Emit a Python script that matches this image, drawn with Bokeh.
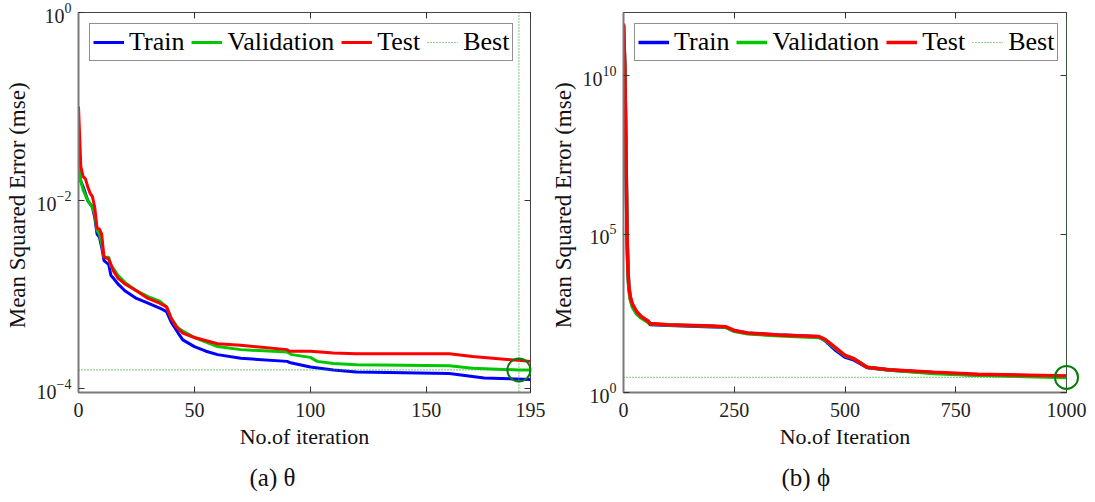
from bokeh.plotting import figure
from bokeh.models import (FixedTicker, LogAxis, LinearAxis, Span, Legend, LegendItem,
                          Title, Range1d, CustomJSTickFormatter)
from bokeh.layouts import row
from bokeh.embed import file_html
from bokeh.resources import INLINE

FONT = "Liberation Serif"

# ---------------- (a) theta ----------------
a_train_it = [0, 1, 2, 4, 6, 7, 8, 9, 10, 11, 13, 14, 15, 17, 20, 25, 30, 35, 38, 40, 43, 45,
              50, 55, 60, 70, 90, 91, 100, 110, 120, 160, 165, 175, 195]
a_train = [2.3e-2, 1.6e-2, 1.4e-2, 1.0e-2, 8.5e-3, 6.6e-3, 4.4e-3, 4.1e-3, 3.2e-3, 2.3e-3,
           2.1e-3, 1.6e-3, 1.5e-3, 1.3e-3, 1.1e-3, 9.1e-4, 8.1e-4, 7.2e-4, 6.6e-4, 5.1e-4,
           3.9e-4, 3.3e-4, 2.8e-4, 2.5e-4, 2.3e-4, 2.1e-4, 1.95e-4, 1.9e-4, 1.7e-4, 1.58e-4,
           1.5e-4, 1.45e-4, 1.4e-4, 1.3e-4, 1.25e-4]
a_val_it = [0, 1, 2, 4, 6, 7, 8, 9, 10, 11, 13, 14, 15, 17, 20, 25, 30, 35, 38, 40, 43, 45,
            50, 60, 70, 90, 92, 100, 103, 110, 120, 160, 170, 190, 195]
a_val = [2.7e-2, 1.6e-2, 1.3e-2, 1.0e-2, 8.5e-3, 7.2e-3, 4.8e-3, 4.4e-3, 3.5e-3, 2.5e-3,
         2.5e-3, 2.0e-3, 1.9e-3, 1.6e-3, 1.35e-3, 1.1e-3, 9.5e-4, 8.5e-4, 7.4e-4, 5.6e-4,
         4.4e-4, 4.1e-4, 3.5e-4, 2.8e-4, 2.6e-4, 2.45e-4, 2.3e-4, 2.15e-4, 1.95e-4, 1.85e-4,
         1.8e-4, 1.75e-4, 1.65e-4, 1.58e-4, 1.58e-4]
a_test_it = [0, 1, 2, 3, 4, 5, 6, 7, 8, 9, 10, 11, 13, 14, 15, 17, 20, 25, 30, 35, 38, 40, 42,
             45, 50, 60, 70, 90, 91, 100, 110, 120, 160, 170, 195]
a_test = [1.0e-1, 2.3e-2, 1.8e-2, 1.7e-2, 1.4e-2, 1.2e-2, 1.1e-2, 8.5e-3, 5.1e-3, 5.0e-3,
          4.4e-3, 2.5e-3, 2.4e-3, 2.1e-3, 1.8e-3, 1.5e-3, 1.3e-3, 1.1e-3, 9.1e-4, 8.1e-4,
          7.4e-4, 5.6e-4, 4.6e-4, 3.9e-4, 3.5e-4, 3.0e-4, 2.9e-4, 2.6e-4, 2.5e-4, 2.5e-4,
          2.4e-4, 2.35e-4, 2.35e-4, 2.2e-4, 1.95e-4]
a_best_epoch = 190
a_best_mse = 1.58e-4
a_xticks = [0, 50, 100, 150, 195]
a_yticks = [1e-4, 1e-2, 1e0]
a_xlim = (0, 195)
a_ylim = (9.1e-5, 1.0)
a_xlabel = "No.of iteration"
a_caption = "(a) θ"

# ---------------- (b) phi ----------------
b_it = [0, 3, 5, 8, 10, 12, 15, 20, 30, 40, 55, 60, 100, 200, 230, 250, 280, 350, 440, 455,
        480, 500, 520, 550, 600, 700, 800, 1000]
b_train = [4.0e11, 1.6e10, 1.6e8, 7.9e4, 7.1e3, 2.2e3, 1.0e3, 562, 316, 240, 178, 141, 132,
           120, 117, 89, 74, 65, 58, 44, 21, 13.2, 10.7, 6.2, 5.1, 4.2, 3.6, 3.2]
b_val = [4.0e11, 1.6e10, 1.6e8, 7.9e4, 6.3e3, 2.0e3, 891, 501, 295, 224, 166, 148, 135,
         123, 115, 85, 71, 62, 55, 46, 24, 14.5, 11.7, 6.3, 5.1, 4.0, 3.5, 3.0]
b_test = [4.47e11, 2.0e10, 2.0e8, 1.0e5, 7.9e3, 2.5e3, 1.12e3, 631, 355, 251, 182, 151, 138,
          126, 120, 91, 76, 66, 59, 48, 25, 14.8, 11.7, 6.3, 5.2, 4.4, 3.8, 3.3]
b_best_epoch = 1000
b_best_mse = 3.0
b_xticks = [0, 250, 500, 750, 1000]
b_yticks = [1e0, 1e5, 1e10]
b_xlim = (0, 1000)
b_ylim = (1.0, 1e12)
b_xlabel = "No.of Iteration"
b_caption = "(b) ϕ"

YLABEL = "Mean Squared Error  (mse)"
C_TRAIN, C_VAL, C_TEST = "#0000ff", "#00c800", "#ff0000"
C_BEST, C_CIRC = "#22aa22", "#0a7a0a"
AX = "#7a7a7a"


def panel(width, height, borders, xlim, ylim, xticks, yticks, series, best_epoch, best_mse,
          xlabel, caption, cap_offset, lw, legend_margin):
    bl, br, bt, bb = borders
    p = figure(width=width, height=height, output_backend="svg", toolbar_location=None,
               x_axis_type="linear", y_axis_type="log",
               x_range=Range1d(*xlim), y_range=Range1d(*ylim),
               min_border_left=bl, min_border_right=br, min_border_top=bt,
               min_border_bottom=bb)
    p.background_fill_color = "white"
    p.border_fill_color = "white"
    p.outline_line_color = "#444444"
    p.outline_line_width = 1
    p.xgrid.visible = False
    p.ygrid.visible = False

    xa = p.xaxis[0]
    xa.ticker = FixedTicker(ticks=xticks)
    ya = p.yaxis[0]
    ya.ticker = FixedTicker(ticks=yticks, minor_ticks=[])
    for ax in (xa, ya):
        ax.axis_line_color = AX
        ax.axis_line_width = 2
        ax.major_tick_in = 6
        ax.major_tick_out = 0
        ax.major_tick_line_color = "#333333"
        ax.minor_tick_line_color = None
        ax.major_label_text_font = FONT
        ax.major_label_text_font_size = "20px"
        ax.major_label_text_color = "#222222"
        ax.axis_label_text_font = FONT
        ax.axis_label_text_font_style = "normal"
        ax.axis_label_text_color = "#111111"
    xa.major_label_standoff = 10
    xa.axis_label = xlabel
    xa.axis_label_text_font_size = "22px"
    xa.axis_label_standoff = 4
    ya.major_label_standoff = 7
    ya.axis_label = YLABEL
    ya.axis_label_text_font_size = "23px"
    ya.axis_label_standoff = 4

    blank = CustomJSTickFormatter(code="return ''")
    top = LinearAxis(ticker=FixedTicker(ticks=xticks), formatter=blank,
                     axis_line_color=None, major_tick_in=6, major_tick_out=0,
                     major_tick_line_color="#333333", minor_tick_line_color=None,
                     major_label_standoff=0, major_label_text_font_size="1px")
    right = LogAxis(ticker=FixedTicker(ticks=yticks, minor_ticks=[]), formatter=blank,
                    axis_line_color=None, major_tick_in=6, major_tick_out=0,
                    major_tick_line_color="#333333", minor_tick_line_color=None,
                    major_label_standoff=0, major_label_text_font_size="1px")
    p.add_layout(top, "above")
    p.add_layout(right, "right")

    (tr_x, tr_y), (va_x, va_y), (te_x, te_y) = series
    r_tr = p.line(tr_x, tr_y, line_color=C_TRAIN, line_width=lw)
    r_va = p.line(va_x, va_y, line_color=C_VAL, line_width=lw)
    r_te = p.line(te_x, te_y, line_color=C_TEST, line_width=lw)

    r_best = p.line([xlim[0], xlim[1]], [best_mse, best_mse], line_color=C_BEST,
                    line_width=1.2, line_dash="1 2")
    p.add_layout(Span(location=best_epoch, dimension="height", line_color=C_BEST,
                      line_width=1.2, line_dash="1 2"))
    p.scatter([best_epoch], [best_mse], marker="circle", size=23, fill_color=None,
              line_color=C_CIRC, line_width=2, level="overlay")

    leg = Legend(items=[LegendItem(label="Train", renderers=[r_tr]),
                        LegendItem(label="Validation", renderers=[r_va]),
                        LegendItem(label="Test", renderers=[r_te]),
                        LegendItem(label="Best", renderers=[r_best])],
                 location="top_left", orientation="horizontal",
                 label_text_font=FONT, label_text_font_size="26px",
                 label_text_color="black", glyph_width=31, glyph_height=20,
                 label_standoff=5, spacing=7, padding=3, margin=legend_margin,
                 border_line_color="#222222", border_line_width=1,
                 background_fill_color="white", background_fill_alpha=1.0)
    p.add_layout(leg)

    p.add_layout(Title(text=caption, align="left", offset=cap_offset, standoff=21,
                       text_font=FONT, text_font_size="25px", text_font_style="normal",
                       text_color="#111111"), "below")
    return p


pa = panel(545, 502, (78, 15, 12, 110), a_xlim, a_ylim, a_xticks, a_yticks,
           [(a_train_it, a_train), (a_val_it, a_val), (a_test_it, a_test)],
           a_best_epoch, a_best_mse, a_xlabel, a_caption, 171, 3, 11)
pb = panel(550, 502, (78, 29, 12, 103), b_xlim, b_ylim, b_xticks, b_yticks,
           [(b_it, b_train), (b_it, b_val), (b_it, b_test)],
           b_best_epoch, b_best_mse, b_xlabel, b_caption, 158, 3.5, 11)

layout = row(pa, pb)
open("out.html", "w").write(file_html(layout, INLINE))
